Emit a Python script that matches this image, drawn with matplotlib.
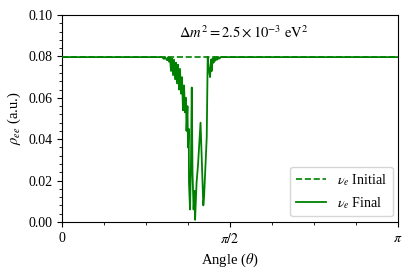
import numpy as np
import matplotlib
matplotlib.use("Agg")
import matplotlib.pyplot as plt
from matplotlib.ticker import MultipleLocator, FixedLocator, FormatStrFormatter

plt.rcParams.update({
    "font.family": ["Liberation Serif", "DejaVu Serif"],
    "mathtext.fontset": "stix",
    "font.size": 10,
})

# rho_ee at the initial time (flat)
theta_init = [0.0, np.pi]
rho_init = [0.0798, 0.0798]

# rho_ee at the final time: flat outside, structured dip around theta ~ 0.95-1.48
theta_final = [
    0.000, 0.935, 0.954, 0.963, 0.982, 0.991, 1.000, 1.010, 1.019, 1.029,
    1.038, 1.047, 1.057, 1.066, 1.075, 1.085, 1.094, 1.103, 1.113, 1.122,
    1.131, 1.141, 1.150, 1.159, 1.164, 1.173, 1.178, 1.185, 1.187, 1.197,
    1.206, 1.213, 1.220, 1.230, 1.239, 1.244, 1.258, 1.272, 1.295, 1.321,
    1.328, 1.353, 1.362, 1.370, 1.384, 1.393, 1.400, 1.407, 1.417, 1.426,
    1.435, 1.445, 1.454, 1.463, 1.473, 1.482, np.pi,
]
rho_final = [
    0.0797, 0.0797, 0.0788, 0.0797, 0.0782, 0.0796, 0.0775, 0.0795, 0.0730, 0.0790,
    0.0710, 0.0785, 0.0690, 0.0770, 0.0670, 0.0760, 0.0640, 0.0740, 0.0620, 0.0700,
    0.0540, 0.0660, 0.0530, 0.0600, 0.0440, 0.0560, 0.0360, 0.0450, 0.0190, 0.0060,
    0.0300, 0.0650, 0.0240, 0.0060, 0.0150, 0.0010, 0.0190, 0.0280, 0.0480, 0.0080,
    0.0120, 0.0410, 0.0798, 0.0750, 0.0700, 0.0785, 0.0730, 0.0790, 0.0770, 0.0797,
    0.0780, 0.0797, 0.0785, 0.0797, 0.0790, 0.0797, 0.0797,
]

fig = plt.figure(figsize=(4.13, 2.75), dpi=100)
ax = fig.add_axes([0.150, 0.193, 0.814, 0.752])

ax.plot(theta_init, rho_init, color="green", linestyle="--", linewidth=1.2,
        label=r"$\nu_e$ Initial", zorder=3)
ax.plot(theta_final, rho_final, color="green", linewidth=1.3,
        label=r"$\nu_e$ Final", zorder=2)

ax.set_xlim(0, np.pi)
ax.set_ylim(0, 0.10)
ax.set_xticks([0, np.pi / 2, np.pi])
ax.set_xticklabels(["0", r"$\pi/2$", r"$\pi$"])
ax.xaxis.set_minor_locator(FixedLocator(np.arange(1, 8) * np.pi / 8))
ax.yaxis.set_major_locator(MultipleLocator(0.02))
ax.yaxis.set_minor_locator(MultipleLocator(0.004))
ax.yaxis.set_major_formatter(FormatStrFormatter("%.2f"))

ax.set_xlabel(r"Angle ($\theta$)", fontsize=10.5)
ax.set_ylabel(r"$\rho_{ee}$ (a.u.)", fontsize=10.5)

ax.text(0.54, 0.915, r"$\Delta m^2 = 2.5\times10^{-3}\ \mathrm{eV}^2$",
        transform=ax.transAxes, ha="center", va="center", fontsize=10.5)

ax.legend(loc="lower right", fontsize=10, framealpha=0.8, handlelength=2.2,
          borderaxespad=0.4)

fig.savefig("out.png", dpi=100)
